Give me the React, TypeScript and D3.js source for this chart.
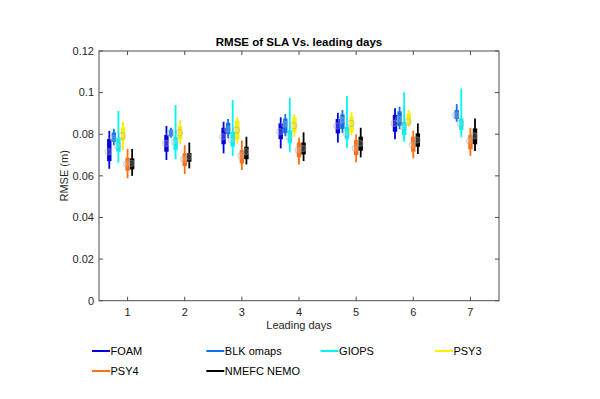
import React from 'react';
import * as d3 from 'd3';

// each entry: [whisker low, box low, median, box high, whisker high], null = no data
type Stat = [number, number, number, number, number] | null;

const days = [1, 2, 3, 4, 5, 6, 7];
const yTicks = [0, 0.02, 0.04, 0.06, 0.08, 0.1, 0.12];

const foam: Stat[] = [
  [0.0634, 0.0671, 0.0716, 0.0777, 0.0816],
  [0.0676, 0.0716, 0.0756, 0.0796, 0.0840],
  [0.0708, 0.0752, 0.0788, 0.0831, 0.0860],
  [0.0732, 0.0776, 0.0812, 0.0852, 0.0881],
  [0.0760, 0.0804, 0.0840, 0.0873, 0.0903],
  [0.0776, 0.0812, 0.0852, 0.0893, 0.0925],
  null,
];
const blkOmaps: Stat[] = [
  [0.0748, 0.0764, 0.0782, 0.0808, 0.0826],
  [0.0783, 0.0790, 0.0804, 0.0822, 0.0831],
  [0.0780, 0.0800, 0.0824, 0.0855, 0.0873],
  [0.0791, 0.0805, 0.0849, 0.0875, 0.0897],
  [0.0807, 0.0825, 0.0868, 0.0895, 0.0916],
  [0.0824, 0.0840, 0.0873, 0.0910, 0.0932],
  [0.0860, 0.0873, 0.0892, 0.0916, 0.0945],
];
const giops: Stat[] = [
  [0.0663, 0.0716, 0.0745, 0.0780, 0.0912],
  [0.0680, 0.0724, 0.0764, 0.0788, 0.0940],
  [0.0696, 0.0740, 0.0772, 0.0812, 0.0965],
  [0.0713, 0.0756, 0.0788, 0.0820, 0.0974],
  [0.0735, 0.0776, 0.0804, 0.0836, 0.0984],
  [0.0764, 0.0796, 0.0835, 0.0860, 0.1001],
  [0.0785, 0.0820, 0.0852, 0.0876, 0.1020],
];
const psy3: Stat[] = [
  [0.0724, 0.0769, 0.0793, 0.0833, 0.0859],
  [0.0752, 0.0775, 0.0807, 0.0838, 0.0868],
  [0.0756, 0.0777, 0.0820, 0.0865, 0.0884],
  [0.0788, 0.0810, 0.0841, 0.0880, 0.0897],
  [0.0796, 0.0810, 0.0852, 0.0885, 0.0908],
  [0.0836, 0.0845, 0.0860, 0.0900, 0.0916],
  null,
];
const psy4: Stat[] = [
  [0.0588, 0.0625, 0.0657, 0.0687, 0.0729],
  [0.0609, 0.0647, 0.0680, 0.0708, 0.0748],
  [0.0628, 0.0660, 0.0696, 0.0724, 0.0769],
  [0.0655, 0.0689, 0.0724, 0.0760, 0.0783],
  [0.0665, 0.0700, 0.0732, 0.0772, 0.0800],
  [0.0684, 0.0716, 0.0748, 0.0788, 0.0817],
  [0.0696, 0.0728, 0.0768, 0.0796, 0.0831],
];
const nmefc: Stat[] = [
  [0.0600, 0.0631, 0.0660, 0.0684, 0.0729],
  [0.0636, 0.0668, 0.0692, 0.0710, 0.0760],
  [0.0655, 0.0680, 0.0716, 0.0740, 0.0788],
  [0.0671, 0.0703, 0.0732, 0.0760, 0.0809],
  [0.0689, 0.0721, 0.0756, 0.0788, 0.0831],
  [0.0705, 0.0740, 0.0772, 0.0804, 0.0852],
  [0.0720, 0.0752, 0.0792, 0.0828, 0.0876],
];

const seriesNames = ['FOAM', 'BLK omaps', 'GIOPS', 'PSY3', 'PSY4', 'NMEFC NEMO'];
const seriesColors = ['#0000e0', '#0a72f0', '#00f5f5', '#f8f000', '#ff7010', '#000000'];
const seriesData = [foam, blkOmaps, giops, psy3, psy4, nmefc];
const seriesOffsets = [-0.32, -0.24, -0.16, -0.08, 0, 0.08];

const font = '"Liberation Sans", Arial, Helvetica, sans-serif';

const App: React.FC = () => {
  const left = 99, right = 499, top = 51, bottom = 300.7;
  const x = d3.scaleLinear().domain([0.5, 7.5]).range([left, right]);
  const y = d3.scaleLinear().domain([0, 0.12]).range([bottom, top]);
  const axisColor = '#4d4d4d';
  const tickLen = 4;

  return (
    <svg width={600} height={399} style={{ position: 'absolute', left: 0, top: 0, background: '#fff' }}
      fontFamily={font}>
      <rect x={0} y={0} width={600} height={399} fill="#fff" />

      {/* ticks, inward on all four sides */}
      {yTicks.map(t => (
        <g key={`y${t}`}>
          <line x1={left} x2={left + tickLen} y1={y(t)} y2={y(t)} stroke={axisColor} />
          <line x1={right} x2={right - tickLen} y1={y(t)} y2={y(t)} stroke={axisColor} />
          <text x={left - 5} y={y(t)} dy="0.35em" textAnchor="end" fontSize={11} fill="#262626">
            {d3.format('~g')(t)}
          </text>
        </g>
      ))}
      {days.map(d => (
        <g key={`x${d}`}>
          <line x1={x(d)} x2={x(d)} y1={bottom} y2={bottom - tickLen} stroke={axisColor} />
          <line x1={x(d)} x2={x(d)} y1={top} y2={top + tickLen} stroke={axisColor} />
          <text x={x(d)} y={bottom + 15} textAnchor="middle" fontSize={11} fill="#262626">{d}</text>
        </g>
      ))}
      <rect x={left} y={top} width={right - left} height={bottom - top} fill="none" stroke={axisColor} />

      {/* compact boxes */}
      {seriesData.map((ser, si) => (
        <g key={seriesNames[si]}>
          {ser.map((s, di) => {
            if (!s) return null;
            const cx = x(days[di] + seriesOffsets[si]);
            return (
              <g key={di}>
                <line x1={cx} x2={cx} y1={y(s[0])} y2={y(s[4])} stroke={seriesColors[si]} strokeWidth={1.8} />
                <rect x={cx - 2.2} width={4.4} y={y(s[3])} height={y(s[1]) - y(s[3])} fill={seriesColors[si]} />
                <circle cx={cx - 0.8} cy={y(s[2])} r={3.3} fill="#d0d0d0" fillOpacity={0.25}
                  stroke="#9a9a9a" strokeOpacity={0.45} strokeWidth={1} />
              </g>
            );
          })}
        </g>
      ))}

      {/* labels */}
      <text x={(left + right) / 2} y={top - 5} textAnchor="middle" fontSize={11.5} fontWeight="bold" fill="#000">
        RMSE of SLA Vs. leading days
      </text>
      <text x={(left + right) / 2} y={bottom + 28} textAnchor="middle" fontSize={11} fill="#262626">
        Leading days
      </text>
      <text transform={`translate(68,${(top + bottom) / 2}) rotate(-90)`} textAnchor="middle" fontSize={11} fill="#262626">
        RMSE (m)
      </text>

      {/* legend */}
      {seriesNames.map((name, i) => {
        const lx = 92 + (i % 4) * 114.3;
        const ly = 351 + Math.floor(i / 4) * 20;
        return (
          <g key={name}>
            <line x1={lx} x2={lx + 18} y1={ly} y2={ly} stroke={seriesColors[i]} strokeWidth={2} />
            <text x={lx + 18.5} y={ly} dy="0.35em" fontSize={11} fill="#000">{name}</text>
          </g>
        );
      })}
    </svg>
  );
};

export default App;
